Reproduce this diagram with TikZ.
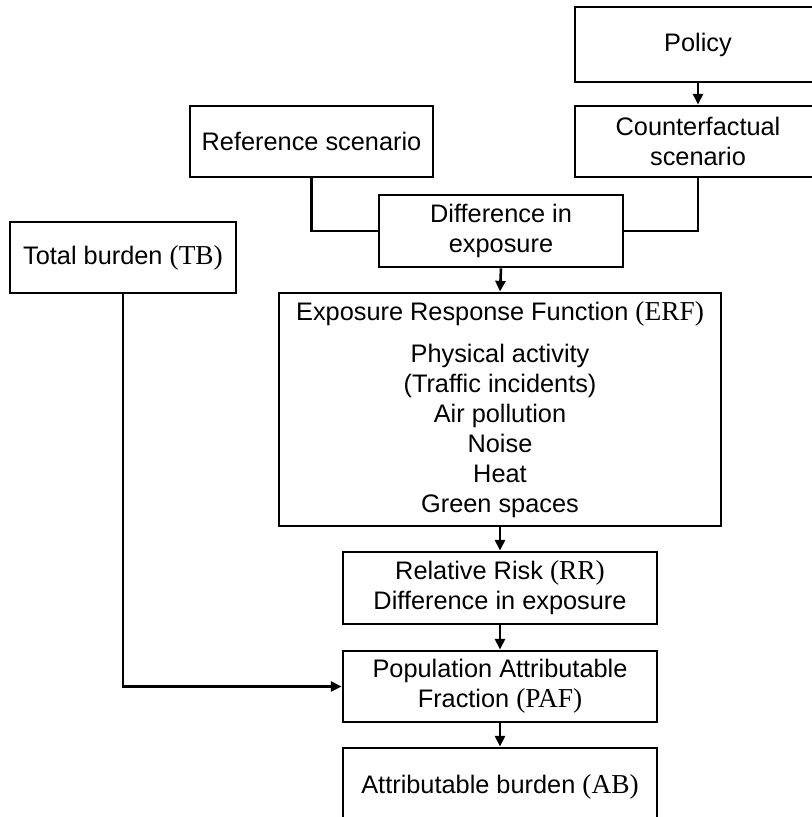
\documentclass[tikz,border=0pt]{standalone}
\usepackage{fontspec}
\setmainfont{Liberation Sans}
\newfontfamily\abbrfont[Scale=1.08]{Liberation Serif}
\usetikzlibrary{arrows.meta}
\newcommand{\abbr}[1]{{\abbrfont(#1)}}
\tikzset{
  box/.style={draw=black, line width=2.2pt, fill=white, inner sep=0pt, align=center,
    font=\fontsize{19}{22.5}\selectfont},
  conn/.style={draw=black, line width=1.9pt},
  arr/.style={conn, -{Triangle[length=8pt,width=7.5pt]}}
}
\begin{document}
\begin{tikzpicture}[x=0.75pt,y=-0.75pt]
\useasboundingbox (0,0) rectangle (811,817);
\fill[white] (0,0) rectangle (811,817);
\node[box, minimum width=184.5pt, minimum height=56.25pt] (policy) at (698,44.5) {Policy};
\node[box, minimum width=184.5pt, minimum height=53.25pt] (cf) at (698,141.5) {Counterfactual\\scenario};
\node[box, minimum width=182.25pt, minimum height=53.25pt] (ref) at (311.5,141.5) {Reference scenario};
\node[box, minimum width=183pt, minimum height=54pt] (diff) at (501,231) {Difference in\\exposure};
\node[box, minimum width=169.5pt, minimum height=53.25pt] (tb) at (123,257.5) {Total burden \abbr{TB}};
\node[box, minimum width=331.5pt, minimum height=174.75pt] (erf) at (500,409.5)
  {Exposure Response Function \abbr{ERF}\\[9.5pt]Physical activity\\(Traffic incidents)\\Air pollution\\Noise\\Heat\\Green spaces};
\node[box, minimum width=235.5pt, minimum height=54pt] (rr) at (500,588) {Relative Risk \abbr{RR}\\Difference in exposure};
\node[box, minimum width=235.5pt, minimum height=53.25pt] (paf) at (500,686.5) {Population Attributable\\Fraction \abbr{PAF}};
\node[box, minimum width=235.5pt, minimum height=58.5pt] (ab) at (500,787) {Attributable burden \abbr{AB}};
\draw[arr] (policy.south) -- (cf.north);
\draw[conn] (ref.south) |- (diff.west);
\draw[conn] (cf.south) |- (diff.east);
\draw[arr] (diff.south) -- (erf.north);
\draw[arr] (erf.south) -- (rr.north);
\draw[arr] (rr.south) -- (paf.north);
\draw[arr] (paf.south) -- (ab.north);
\draw[arr] (tb.south) |- (paf.west);
\end{tikzpicture}
\end{document}
